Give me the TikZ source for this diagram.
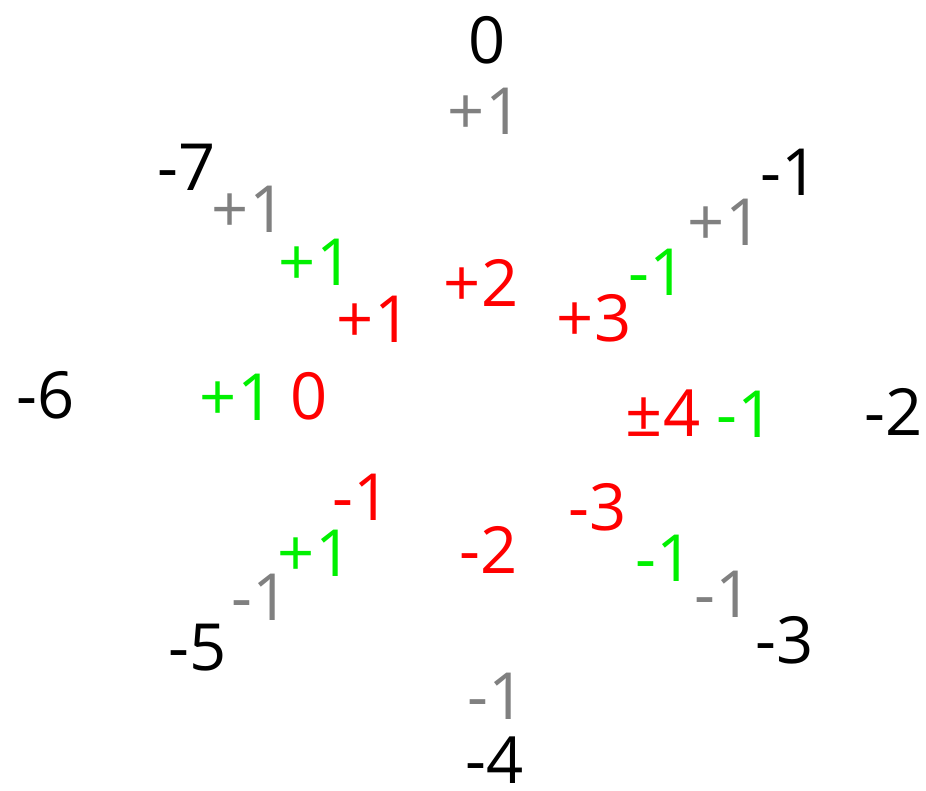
\documentclass[tikz,border=0pt]{standalone}
\usepackage{fontspec}
\setmainfont{Open Sans}
\definecolor{cgray}{RGB}{128,128,128}
\definecolor{cgreen}{RGB}{0,240,0}
\definecolor{cred}{RGB}{255,0,0}
\begin{document}
\begin{tikzpicture}[x=1pt,y=-1pt,
  lbl/.style={inner sep=0pt,anchor=center,font=\fontsize{65}{67}\selectfont},
  outer/.style={lbl,text=black},
  ring/.style={lbl,text=cgray},
  mid/.style={lbl,text=cgreen},
  core/.style={lbl,text=cred}]
\useasboundingbox (0,0) rectangle (926,790);
% outer black
\node[outer] (o0) at (487,40) {0};
\node[outer] (o1) at (790,172) {-1};
\node[outer] (o2) at (894,412) {-2};
\node[outer] (o3) at (785,640) {-3};
\node[outer] (o4) at (495,760) {-4};
\node[outer] (o5) at (198,648) {-5};
\node[outer] (o6) at (46,395) {-6};
\node[outer] (o7) at (187,167) {-7};
% gray
\node[ring] (g0) at (485,111) {+1};
\node[ring] (g7) at (249,209) {+1};
\node[ring] (g1) at (725,222) {+1};
\node[ring] (g5) at (261,597) {-1};
\node[ring] (g3) at (724,594) {-1};
\node[ring] (g4) at (497,696) {-1};
% green
\node[mid] (m7) at (316,262) {+1};
\node[mid] (m1) at (658,272) {-1};
\node[mid] (m6) at (237,397) {+1};
\node[mid] (m2) at (746,414) {-1};
\node[mid] (m5) at (315,553) {+1};
\node[mid] (m3) at (665,558) {-1};
% red
\node[core] (r2) at (481,283) {+2};
\node[core] (r1) at (374,319) {+1};
\node[core] (r3) at (594,318) {+3};
\node[core] (r0) at (309,396) {0};
\node[core] (r4) at (663,413) {±4};
\node[core] (rm1) at (362,497) {-1};
\node[core] (rm3) at (598,507) {-3};
\node[core] (rm2) at (489,550) {-2};
\end{tikzpicture}
\end{document}
